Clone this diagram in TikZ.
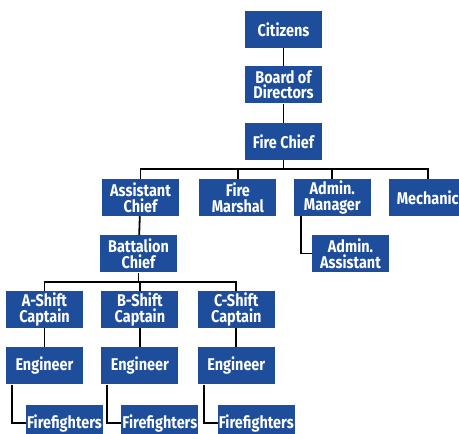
\documentclass[tikz,border=0pt]{standalone}
\usepackage{fontspec}
\setmainfont{Fira Sans}[FakeStretch=0.85]
\usetikzlibrary{positioning, calc}
\definecolor{boxblue}{RGB}{30,77,155}

\begin{document}
\begin{tikzpicture}[
			x=1pt, y=1pt,
			node distance=19pt and 18pt,
			every node/.style={align=center},
			box/.style={rectangle, fill=boxblue, text=white, inner sep=1pt,
				minimum height=37pt, minimum width=77pt,
				font=\bfseries\fontsize{17}{15.5}\selectfont},
			link/.style={line width=1.8pt, black}
			]
			\useasboundingbox (0,0) rectangle (459,-434);
			% Top chain
			\node[box] (citizens) at (283.5,-29.5) {Citizens};
			\node[box, below=18pt of citizens] (board) {Board of\\Directors};
			\node[box, below=of board] (chief) {Fire Chief};
			
			% Second row
			\node[box] (assistant) at (140.5,-197.5) {Assistant\\Chief};
			\node[box, right=20pt of assistant] (marshal) {Fire\\Marshal};
			\node[box, right=17pt of marshal] (manager) {Admin.\\Manager};
			\node[box, right=18pt of manager] (mechanic) {Mechanic};
			\node[box] (adminasst) at (350.5,-253.5) {Admin.\\Assistant};
			\node[box, below=of assistant, xshift=-2pt] (battalion) {Battalion\\Chief};
			
			% Shifts
			\node[box] (capA) at (44.5,-309.5) {A-Shift\\Captain};
			\node[box, right=of capA] (capB) {B-Shift\\Captain};
			\node[box, right=19pt of capB] (capC) {C-Shift\\Captain};
			\foreach \s in {A, B, C} {
				\node[box, below=of cap\s] (eng\s) {Engineer};
				\node[box, below=20pt of eng\s, xshift=20pt] (fire\s) {Firefighters};
			}
			
			% Connectors
			\coordinate[below=9pt of chief] (bus);
			\coordinate[below=9pt of battalion] (shiftbus);
			\draw[link] (citizens) -- (board);
			\draw[link] (board) -- (chief);
			\draw[link] (chief) -- (bus);
			\draw[link] (assistant.north) |- (bus) -| (mechanic.north);
			\draw[link] (marshal.north) -- (marshal.north |- bus);
			\draw[link] (manager.north) -- (manager.north |- bus);
			\draw[link] ([xshift=7pt]manager.south west) |- (adminasst.west);
			\draw[link] (assistant) -- (battalion);
			\draw[link] (battalion) -- (shiftbus);
			\draw[link] (capA.north) |- (shiftbus) -| (capC.north);
			\draw[link] (capB.north) -- (capB.north |- shiftbus);
			\foreach \s in {A, B, C} {
				\draw[link] (cap\s) -- (eng\s);
				\draw[link] ([xshift=6pt]eng\s.south west) |- (fire\s.west);
			}
		\end{tikzpicture}
\end{document}
